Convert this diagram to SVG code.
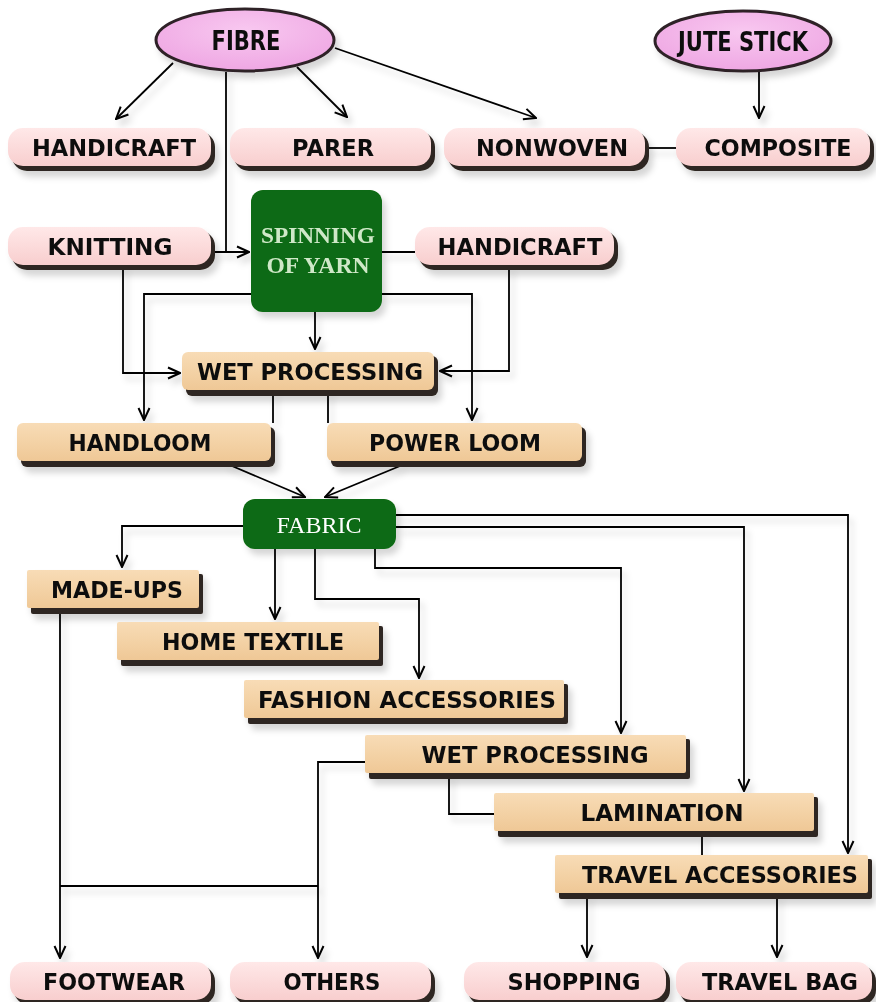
<svg xmlns="http://www.w3.org/2000/svg" width="876" height="1002" viewBox="0 0 876 1002">
<defs>
<linearGradient id="pink" x1="0" y1="0" x2="0" y2="1"><stop offset="0" stop-color="#ffe8e8"/><stop offset="1" stop-color="#f8cece"/></linearGradient>
<linearGradient id="tan" x1="0" y1="0" x2="0" y2="1"><stop offset="0" stop-color="#f8dcb6"/><stop offset="1" stop-color="#efc896"/></linearGradient>
<radialGradient id="lilac" cx="0.5" cy="0.35" r="0.7"><stop offset="0" stop-color="#f8c8f0"/><stop offset="1" stop-color="#eea4e2"/></radialGradient>
<filter id="soft" x="-10%" y="-10%" width="130%" height="140%"><feDropShadow dx="4" dy="6" stdDeviation="3" flood-color="#000" flood-opacity="0.16"/></filter>
<marker id="arr" viewBox="0 0 14 14" refX="13" refY="7" markerWidth="14" markerHeight="14" markerUnits="userSpaceOnUse" orient="auto"><path d="M1,1.5 L13,7 L1,12.5" fill="none" stroke="#000" stroke-width="2"/></marker>
</defs>
<style>
.sh{fill:#2e2620}
.pk{fill:url(#pink)}
.tn{fill:url(#tan)}
.gr{fill:#0b6a12}
.t{font-family:"DejaVu Sans",Verdana,sans-serif;font-weight:bold;font-size:23px;fill:#111;text-anchor:middle}
.big{font-size:26px}
.w{font-family:"Liberation Serif","Times New Roman",serif;font-size:23px;text-anchor:middle}
.c{fill:none;stroke:#000;stroke-width:1.8}
.a{marker-end:url(#arr)}
</style>
<rect width="876" height="1002" fill="#fff"/>

<g id="connectors" filter="url(#soft)">
<path class="c a" d="M173,63 L116,119"/>
<path class="c a" d="M297,67 L347,117"/>
<path class="c a" d="M335,48 L536,118"/>
<path class="c a" d="M759,72 V118"/>
<path class="c" d="M645,148 H676"/>
<path class="c" d="M226,72 V252"/>
<path class="c a" d="M211,252 H249"/>
<path class="c" d="M382,252 H415"/>
<path class="c a" d="M123,265 V373 H180"/>
<path class="c a" d="M251,294 H144 V420"/>
<path class="c a" d="M382,294 H472 V420"/>
<path class="c a" d="M315,312 V349"/>
<path class="c a" d="M509,265 V371 H440"/>
<path class="c" d="M273,390 V423"/>
<path class="c" d="M328,390 V423"/>
<path class="c a" d="M225,463 L305,497"/>
<path class="c a" d="M400,466 L325,497"/>
<path class="c a" d="M243,526 H122 V567"/>
<path class="c a" d="M275,549 V619"/>
<path class="c a" d="M315,549 V599 H419 V678"/>
<path class="c a" d="M375,549 V568 H621 V733"/>
<path class="c a" d="M396,527 H744 V791"/>
<path class="c a" d="M396,515 H848 V853"/>
<path class="c" d="M449,773 V814 H494"/>
<path class="c" d="M702,831 V855"/>
<path class="c a" d="M60,608 V958"/>
<path class="c a" d="M365,762 H318 V958"/>
<path class="c" d="M60,886 H318"/>
<path class="c a" d="M587,893 V957"/>
<path class="c a" d="M777,893 V957"/>
</g>

<g id="fibre" filter="url(#soft)"><ellipse cx="245" cy="40" rx="89" ry="31" fill="url(#lilac)" stroke="#2e2028" stroke-width="3"/><text class="t big" x="246" y="50" textLength="69" lengthAdjust="spacingAndGlyphs">FIBRE</text></g>
<g id="jute-stick" filter="url(#soft)"><ellipse cx="743" cy="41" rx="88" ry="30" fill="url(#lilac)" stroke="#2e2028" stroke-width="3"/><text class="t big" x="743" y="51" textLength="130" lengthAdjust="spacingAndGlyphs">JUTE STICK</text></g>

<g id="handicraft-1" filter="url(#soft)"><rect class="sh" x="12" y="132" width="203" height="39" rx="15"/><rect class="pk" x="8" y="128" width="203" height="38" rx="15"/><text class="t" x="114" y="156" textLength="164" lengthAdjust="spacingAndGlyphs">HANDICRAFT</text></g>
<g id="parer" filter="url(#soft)"><rect class="sh" x="234" y="132" width="201" height="39" rx="15"/><rect class="pk" x="230" y="128" width="201" height="38" rx="15"/><text class="t" x="333" y="156" textLength="82" lengthAdjust="spacingAndGlyphs">PARER</text></g>
<g id="nonwoven" filter="url(#soft)"><rect class="sh" x="448" y="132" width="201" height="39" rx="15"/><rect class="pk" x="444" y="128" width="201" height="38" rx="15"/><text class="t" x="552" y="156" textLength="152" lengthAdjust="spacingAndGlyphs">NONWOVEN</text></g>
<g id="composite" filter="url(#soft)"><rect class="sh" x="680" y="132" width="194" height="39" rx="15"/><rect class="pk" x="676" y="128" width="194" height="38" rx="15"/><text class="t" x="778" y="156" textLength="147" lengthAdjust="spacingAndGlyphs">COMPOSITE</text></g>

<g id="knitting" filter="url(#soft)"><rect class="sh" x="12" y="231" width="203" height="39" rx="15"/><rect class="pk" x="8" y="227" width="203" height="38" rx="15"/><text class="t" x="110" y="255" textLength="125" lengthAdjust="spacingAndGlyphs">KNITTING</text></g>
<g id="spinning-of-yarn" filter="url(#soft)"><rect class="gr" x="251" y="190" width="131" height="122" rx="12"/><text class="w" x="318" y="243" fill="#cfe8c8" font-weight="bold" textLength="114" lengthAdjust="spacingAndGlyphs">SPINNING</text><text class="w" x="318" y="273" fill="#cfe8c8" font-weight="bold" textLength="103" lengthAdjust="spacingAndGlyphs">OF YARN</text></g>
<g id="handicraft-2" filter="url(#soft)"><rect class="sh" x="419" y="231" width="199" height="39" rx="15"/><rect class="pk" x="415" y="227" width="199" height="38" rx="15"/><text class="t" x="520" y="255" textLength="165" lengthAdjust="spacingAndGlyphs">HANDICRAFT</text></g>

<g id="wet-processing-1" filter="url(#soft)"><rect class="sh" x="186" y="356" width="252" height="40" rx="6"/><rect class="tn" x="182" y="352" width="252" height="38" rx="6"/><text class="t" x="310" y="380" textLength="226" lengthAdjust="spacingAndGlyphs">WET PROCESSING</text></g>
<g id="handloom" filter="url(#soft)"><rect class="sh" x="21" y="427" width="254" height="40" rx="6"/><rect class="tn" x="17" y="423" width="254" height="38" rx="6"/><text class="t" x="140" y="451" textLength="143" lengthAdjust="spacingAndGlyphs">HANDLOOM</text></g>
<g id="power-loom" filter="url(#soft)"><rect class="sh" x="331" y="427" width="255" height="40" rx="6"/><rect class="tn" x="327" y="423" width="255" height="38" rx="6"/><text class="t" x="455" y="451" textLength="172" lengthAdjust="spacingAndGlyphs">POWER LOOM</text></g>

<g id="fabric" filter="url(#soft)"><rect class="gr" x="243" y="499" width="153" height="50" rx="12"/><text class="w" x="319" y="533" fill="#ffffff" textLength="85" lengthAdjust="spacingAndGlyphs">FABRIC</text></g>

<g id="made-ups" filter="url(#soft)"><rect class="sh" x="31" y="574" width="172" height="40" rx="2"/><rect class="tn" x="27" y="570" width="172" height="38" rx="2"/><text class="t" x="117" y="598" textLength="132" lengthAdjust="spacingAndGlyphs">MADE-UPS</text></g>
<g id="home-textile" filter="url(#soft)"><rect class="sh" x="121" y="626" width="262" height="40" rx="2"/><rect class="tn" x="117" y="622" width="262" height="38" rx="2"/><text class="t" x="253" y="650" textLength="182" lengthAdjust="spacingAndGlyphs">HOME TEXTILE</text></g>
<g id="fashion-accessories" filter="url(#soft)"><rect class="sh" x="248" y="684" width="320" height="40" rx="2"/><rect class="tn" x="244" y="680" width="320" height="38" rx="2"/><text class="t" x="407" y="708" textLength="298" lengthAdjust="spacingAndGlyphs">FASHION ACCESSORIES</text></g>
<g id="wet-processing-2" filter="url(#soft)"><rect class="sh" x="369" y="739" width="321" height="40" rx="2"/><rect class="tn" x="365" y="735" width="321" height="38" rx="2"/><text class="t" x="535" y="763" textLength="227" lengthAdjust="spacingAndGlyphs">WET PROCESSING</text></g>
<g id="lamination" filter="url(#soft)"><rect class="sh" x="498" y="797" width="320" height="40" rx="2"/><rect class="tn" x="494" y="793" width="320" height="38" rx="2"/><text class="t" x="662" y="821" textLength="163" lengthAdjust="spacingAndGlyphs">LAMINATION</text></g>
<g id="travel-accessories" filter="url(#soft)"><rect class="sh" x="559" y="859" width="313" height="40" rx="2"/><rect class="tn" x="555" y="855" width="313" height="38" rx="2"/><text class="t" x="720" y="883" textLength="276" lengthAdjust="spacingAndGlyphs">TRAVEL ACCESSORIES</text></g>

<g id="footwear" filter="url(#soft)"><rect class="sh" x="14" y="966" width="201" height="39" rx="15"/><rect class="pk" x="10" y="962" width="201" height="38" rx="15"/><text class="t" x="114" y="990" textLength="142" lengthAdjust="spacingAndGlyphs">FOOTWEAR</text></g>
<g id="others" filter="url(#soft)"><rect class="sh" x="234" y="966" width="201" height="39" rx="15"/><rect class="pk" x="230" y="962" width="201" height="38" rx="15"/><text class="t" x="332" y="990" textLength="97" lengthAdjust="spacingAndGlyphs">OTHERS</text></g>
<g id="shopping" filter="url(#soft)"><rect class="sh" x="468" y="966" width="202" height="39" rx="15"/><rect class="pk" x="464" y="962" width="202" height="38" rx="15"/><text class="t" x="574" y="990" textLength="133" lengthAdjust="spacingAndGlyphs">SHOPPING</text></g>
<g id="travel-bag" filter="url(#soft)"><rect class="sh" x="680" y="966" width="196" height="39" rx="15"/><rect class="pk" x="676" y="962" width="196" height="38" rx="15"/><text class="t" x="780" y="990" textLength="156" lengthAdjust="spacingAndGlyphs">TRAVEL BAG</text></g>
</svg>
